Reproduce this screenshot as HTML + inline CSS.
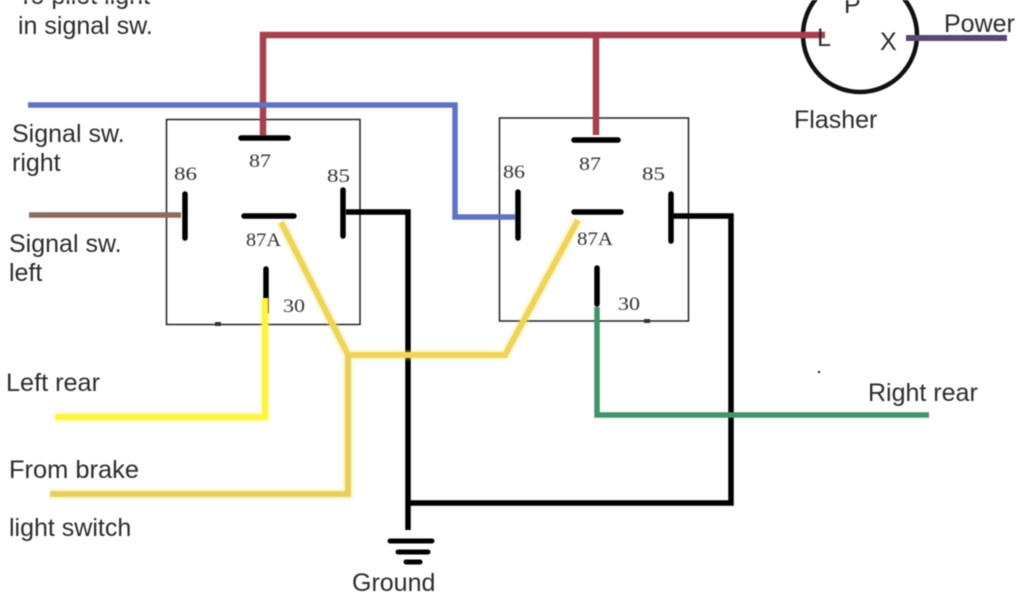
<!DOCTYPE html>
<html><head><meta charset="utf-8"><style>
html,body{margin:0;padding:0;background:#fff;width:1024px;height:600px;overflow:hidden}
svg{display:block;filter:blur(.4px)}
.s{font-family:"Liberation Sans",sans-serif;font-size:25px;fill:#2b2b2b}
.n{font-family:"Liberation Serif",serif;font-size:19px;fill:#333}
.w{fill:none;stroke-linejoin:miter}
</style></head><body>
<svg width="1024" height="600" viewBox="0 0 1024 600" xmlns="http://www.w3.org/2000/svg">
<rect x="166.500" y="119.500" width="193.500" height="205" fill="none" stroke="#222" stroke-width="1.500"/>
<rect x="499.500" y="118" width="189" height="203" fill="none" stroke="#222" stroke-width="1.500"/>
<circle cx="860" cy="35" r="57" fill="none" stroke="#111" stroke-width="4.500"/>

<!-- black wires and terminals -->
<g stroke="#000" fill="none" stroke-linecap="round">
<path d="M241 138H288M185 194V238M244 216H294M343 190V236M266 269V312" stroke-width="5.500"/>
<path d="M574 140H618M518 192V238M574 212H621M671 194V241M597 268V304" stroke-width="5.500"/>
<path d="M346 212H408V530M672 216H731V503H408" stroke-width="5.500" stroke-linecap="butt"/>
<path d="M390 541H432M398 552H428M406 562H420" stroke-width="5"/>
</g>

<!-- soft halo around the yellow wires -->
<g fill="none" opacity=".25">
<path d="M265 298V417H55" stroke="#fdf43f" stroke-width="11"/>
<path d="M281 222L348 355H505L578 220M348 355V494H50" stroke="#f5e25a" stroke-width="11"/>
</g>

<!-- coloured wires -->
<path class="w" d="M263 135V35H825" stroke="#a8404f" stroke-width="6.500"/>
<path class="w" d="M596 135V35" stroke="#a8404f" stroke-width="6.500"/>
<path class="w" d="M28 105H455V217H515" stroke="#5f73c4" stroke-width="5.500"/>
<path class="w" d="M29 215H181" stroke="#8b6b5c" stroke-width="5.500"/>
<path class="w" d="M265 298V417H55" stroke="#fdf43f" stroke-width="6"/>
<path class="w" d="M281 222L348 355H505L578 220" stroke="#efd45a" stroke-width="6"/>
<path class="w" d="M348 355V494H50" stroke="#e8cf5c" stroke-width="6"/>
<path class="w" d="M597 307V415H929" stroke="#43936a" stroke-width="5.500"/>
<path class="w" d="M906 38H1007" stroke="#5d4675" stroke-width="6"/>

<!-- labels -->
<text class="s" x="18" y="4">To pilot light</text>
<text class="s" x="18" y="34">in signal sw.</text>
<text class="s" x="12" y="142">Signal sw.</text>
<text class="s" x="12" y="171">right</text>
<text class="s" x="9" y="252">Signal sw.</text>
<text class="s" x="9" y="281">left</text>
<text class="s" x="6" y="391" textLength="94" lengthAdjust="spacingAndGlyphs">Left rear</text>
<text class="s" x="9" y="478" textLength="130" lengthAdjust="spacingAndGlyphs">From brake</text>
<text class="s" x="9" y="536">light switch</text>
<text class="s" x="868" y="401">Right rear</text>
<text class="s" x="352" y="591">Ground</text>
<text class="s" x="794" y="128">Flasher</text>
<text class="s" x="944" y="32">Power</text>
<text class="s" x="817" y="46">L</text>
<text class="s" x="880" y="50">X</text>
<text class="s" x="844" y="13">P</text>

<text class="n" x="174" y="180" textLength="23" lengthAdjust="spacingAndGlyphs">86</text>
<text class="n" x="249" y="167" textLength="22" lengthAdjust="spacingAndGlyphs">87</text>
<text class="n" x="327" y="182" textLength="23" lengthAdjust="spacingAndGlyphs">85</text>
<text class="n" x="246" y="246" textLength="35" lengthAdjust="spacingAndGlyphs">87A</text>
<text class="n" x="283" y="312" textLength="22" lengthAdjust="spacingAndGlyphs">30</text>
<text class="n" x="503" y="178" textLength="22" lengthAdjust="spacingAndGlyphs">86</text>
<text class="n" x="579" y="170" textLength="22" lengthAdjust="spacingAndGlyphs">87</text>
<text class="n" x="642" y="180" textLength="23" lengthAdjust="spacingAndGlyphs">85</text>
<text class="n" x="577" y="245" textLength="36" lengthAdjust="spacingAndGlyphs">87A</text>
<text class="n" x="618" y="310" textLength="22" lengthAdjust="spacingAndGlyphs">30</text>

<rect x="215" y="322" width="6" height="4" fill="#333"/>
<rect x="644" y="319" width="6" height="4" fill="#333"/>
<circle cx="819" cy="372" r="1.200" fill="#222"/>
</svg>
</body></html>
